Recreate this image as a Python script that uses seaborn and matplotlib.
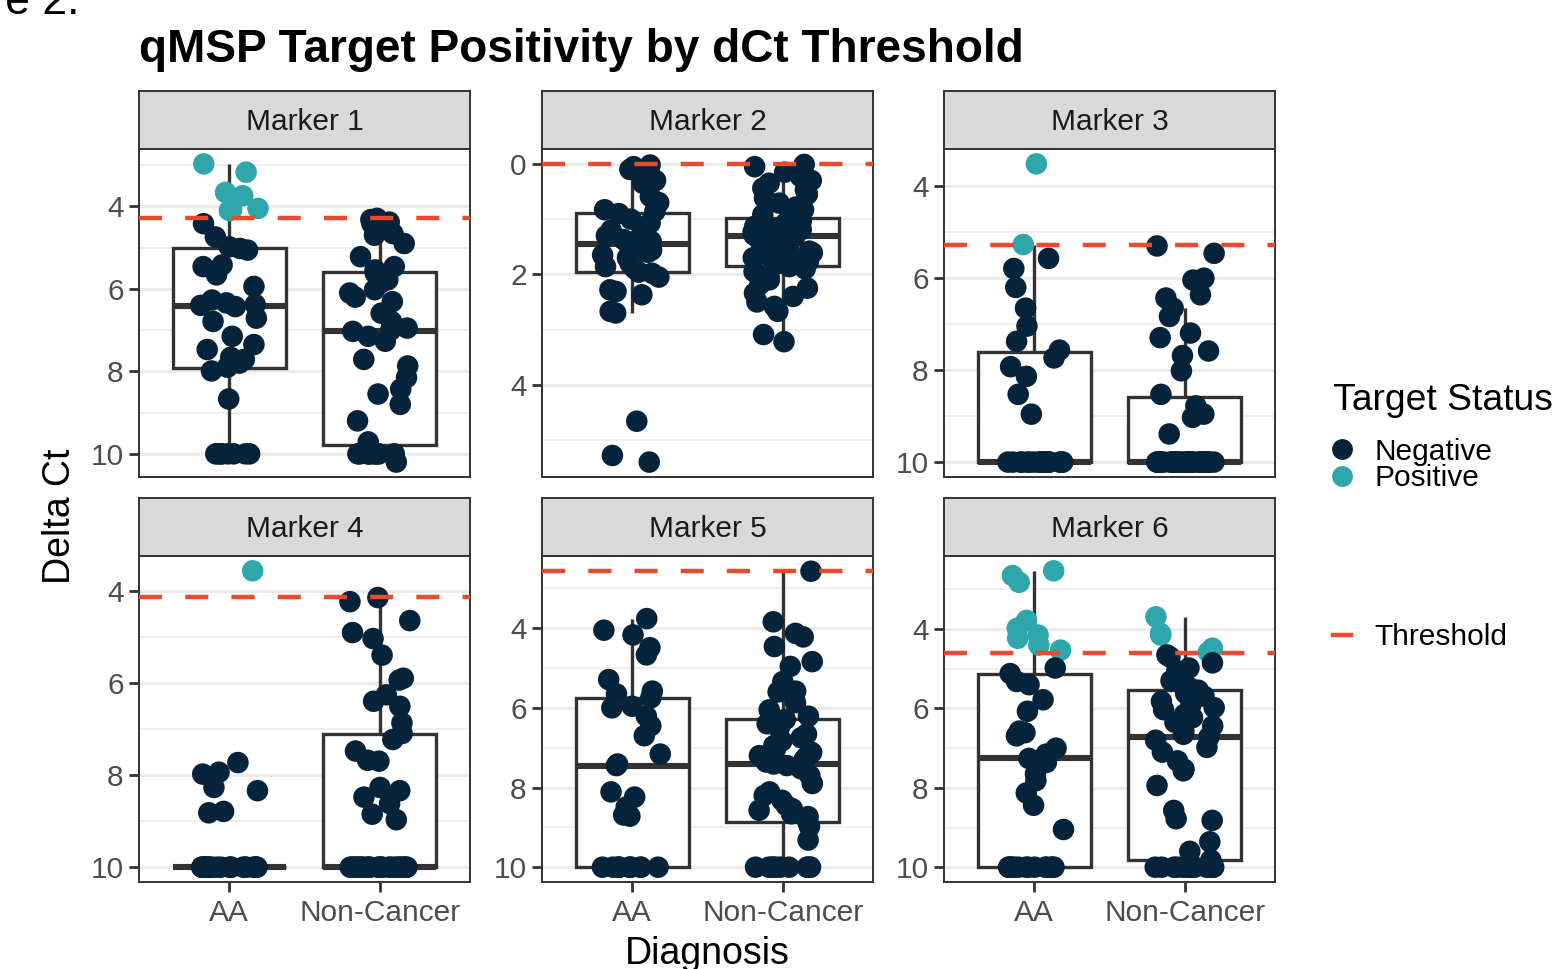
import numpy as np
import pandas as pd
import matplotlib
matplotlib.use("Agg")
import matplotlib.pyplot as plt
from matplotlib.lines import Line2D
from matplotlib.ticker import MultipleLocator
import seaborn as sns

# ---- data (delta Ct per sample) ----
markers = ["Marker 1", "Marker 2", "Marker 3", "Marker 4", "Marker 5", "Marker 6"]
diagnoses = ["AA", "Non-Cancer"]
thresholds = [4.27, 0.0, 5.30, 4.13, 2.56, 4.60]

m1_aa = [2.97, 3.17, 3.66, 3.74, 4.05, 4.08, 4.10, 4.42, 4.74, 4.98, 5.02, 5.06, 5.42, 5.46,
         5.66, 5.94, 6.27, 6.34, 6.38, 6.40, 6.43, 6.71, 6.79, 7.15, 7.35, 7.47, 7.66, 7.71,
         7.80, 7.90, 7.99, 8.67] + [10.0] * 8
m1_nc = [4.29, 4.32, 4.38, 4.42, 4.58, 4.66, 4.70, 4.90, 5.22, 5.46, 5.54, 5.62, 5.78, 5.85,
         6.02, 6.10, 6.20, 6.31, 6.59, 6.79, 6.95, 7.00, 7.03, 7.15, 7.27, 7.71, 7.87, 8.15,
         8.43, 8.55, 8.80, 9.20, 9.71] + [10.0] * 10 + [10.2]
m2_aa = [0.02, 0.05, 0.10, 0.14, 0.30, 0.35, 0.59, 0.70, 0.83, 0.86, 0.90, 1.00, 1.07, 1.13,
         1.20, 1.25, 1.30, 1.37, 1.40, 1.44, 1.46, 1.50, 1.56, 1.60, 1.65, 1.70, 1.80, 1.86,
         1.90, 1.96, 1.98, 2.05, 2.28, 2.31, 2.37, 2.67, 2.70, 4.66, 5.28, 5.40]
m2_nc = [0.01, 0.05, 0.15, 0.23, 0.30, 0.35, 0.44, 0.47, 0.55, 0.62, 0.71, 0.78, 0.83, 0.92,
         0.99, 1.04, 1.07, 1.10, 1.13, 1.16, 1.19, 1.21, 1.23, 1.25, 1.27, 1.28, 1.29, 1.30,
         1.32, 1.37, 1.42, 1.48, 1.53, 1.58, 1.61, 1.65, 1.70, 1.74, 1.77, 1.80, 1.82, 1.84,
         1.86, 1.90, 1.95, 2.04, 2.10, 2.18, 2.25, 2.34, 2.40, 2.50, 2.58, 2.67, 3.09, 3.22]
m3_aa = [3.53, 5.28, 5.58, 5.80, 6.21, 6.66, 7.05, 7.38, 7.57, 7.74, 7.93, 8.14, 8.53,
         8.96] + [10.0] * 20
m3_nc = [5.31, 5.47, 6.01, 6.05, 6.37, 6.44, 6.66, 6.84, 7.20, 7.30, 7.59, 7.69, 8.02, 8.53,
         8.78, 8.96, 9.03, 9.39] + [10.0] * 36
m4_aa = [3.57, 7.73, 7.94, 7.98, 8.27, 8.34, 8.79, 8.82] + [10.0] * 25
m4_nc = [4.15, 4.24, 4.65, 4.91, 5.04, 5.40, 5.90, 5.94, 6.26, 6.40, 6.51, 6.87, 7.10, 7.23,
         7.48, 7.68, 7.70, 8.27, 8.34, 8.48, 8.62, 8.85, 8.97] + [10.0] * 26
m5_aa = [3.76, 4.05, 4.17, 4.49, 4.67, 5.29, 5.58, 5.65, 5.75, 5.96, 6.00, 6.21, 6.45, 6.70,
         7.16, 7.41, 7.45, 8.11, 8.24, 8.49, 8.69, 8.72] + [10.0] * 11
m5_nc = [2.57, 3.84, 4.13, 4.22, 4.46, 4.84, 4.96, 5.34, 5.58, 5.60, 5.87, 6.05, 6.21, 6.29,
         6.40, 6.52, 6.66, 6.75, 6.83, 6.95, 7.05, 7.12, 7.20, 7.24, 7.30, 7.36, 7.41, 7.45,
         7.53, 7.70, 7.90, 8.11, 8.20, 8.32, 8.45, 8.53, 8.57, 8.66, 8.73, 8.86, 8.98,
         9.32] + [10.0] * 11
m6_aa = [2.53, 2.65, 2.82, 3.78, 3.98, 4.15, 4.23, 4.40, 4.53, 4.98, 5.12, 5.32, 5.40, 5.78,
         6.07, 6.57, 6.61, 6.69, 7.00, 7.15, 7.26, 7.36, 7.65, 7.82, 8.13, 8.44, 9.05] + [10.0] * 14
m6_nc = [3.69, 4.11, 4.15, 4.48, 4.58, 4.65, 4.70, 4.85, 4.98, 5.05, 5.19, 5.30, 5.48, 5.54,
         5.62, 5.69, 5.82, 5.90, 5.98, 6.03, 6.15, 6.23, 6.35, 6.44, 6.57, 6.65, 6.72, 6.80,
         6.98, 7.10, 7.32, 7.53, 7.57, 7.94, 8.57, 8.78, 8.82, 9.36, 9.60, 9.82] + [10.0] * 13

aa_values = [m1_aa, m2_aa, m3_aa, m4_aa, m5_aa, m6_aa]
nc_values = [m1_nc, m2_nc, m3_nc, m4_nc, m5_nc, m6_nc]

rows = []
for m, thr, aa, nc in zip(markers, thresholds, aa_values, nc_values):
    for diag, vals in zip(diagnoses, [aa, nc]):
        for v in vals:
            rows.append({"marker": m, "diagnosis": diag, "dct": v,
                         "status": "Positive" if v < thr else "Negative"})
df = pd.DataFrame(rows)

# ---- style ----
palette = {"Negative": "#05233A", "Positive": "#2FA7AA"}
thr_color = "#E84A2B"
edge = "#333333"
plt.rcParams["font.family"] = ["Liberation Sans", "DejaVu Sans"]

np.random.seed(7)
W, H = 1556, 969
fig = plt.figure(figsize=(W / 100, H / 100), dpi=100)

col_left = [139, 542, 944]
row_top = [149, 556]
row_bot = [477, 882]
panel_w = 331
strip_h = 58

for i, (m, thr) in enumerate(zip(markers, thresholds)):
    r, c = divmod(i, 3)
    ax = fig.add_axes([col_left[c] / W, 1 - row_bot[r] / H,
                       panel_w / W, (row_bot[r] - row_top[r]) / H])
    sub = df[df["marker"] == m]

    sns.boxplot(data=sub, x="diagnosis", y="dct", order=diagnoses, ax=ax,
                width=0.75, color="white", linecolor=edge, linewidth=2.4,
                showfliers=False, whis=1.5, medianprops={"linewidth": 4.4},
                capprops={"linewidth": 0})
    sns.stripplot(data=sub, x="diagnosis", y="dct", order=diagnoses, hue="status",
                  hue_order=["Negative", "Positive"], palette=palette, jitter=0.2,
                  size=15.5, linewidth=0, ax=ax, legend=False, zorder=3)
    ax.axhline(thr, color=thr_color, lw=3.2, ls=(0, (5.2, 5.2)), zorder=4)

    lo = min(sub["dct"].min(), thr)
    hi = max(sub["dct"].max(), thr)
    pad = 0.05 * (hi - lo)
    ax.set_ylim(hi + pad, lo - pad)
    ax.set_xlim(-0.6, 1.6)
    ax.yaxis.set_major_locator(MultipleLocator(2))
    ax.yaxis.set_minor_locator(MultipleLocator(1))
    ax.grid(axis="y", which="major", color="#EBEBEB", lw=2.2)
    ax.grid(axis="y", which="minor", color="#EBEBEB", lw=1.1)
    ax.set_axisbelow(True)
    ax.set_xlabel("")
    ax.set_ylabel("")
    for s in ax.spines.values():
        s.set_color(edge)
        s.set_linewidth(1.4)
    ax.tick_params(axis="y", which="major", length=7, width=2, color=edge,
                   labelsize=21.5, labelcolor="#4D4D4D", pad=4)
    ax.tick_params(axis="y", which="minor", length=0)
    if r == 1:
        ax.tick_params(axis="x", length=7, width=2, color=edge,
                       labelsize=21.5, labelcolor="#4D4D4D", pad=5)
    else:
        ax.tick_params(axis="x", length=0, labelbottom=False)

    sax = fig.add_axes([col_left[c] / W, 1 - row_top[r] / H,
                        panel_w / W, strip_h / H])
    sax.set_facecolor("#D9D9D9")
    sax.set_xticks([])
    sax.set_yticks([])
    for s in sax.spines.values():
        s.set_color(edge)
        s.set_linewidth(1.4)
    sax.text(0.5, 0.47, m, ha="center", va="center", fontsize=21.5,
             color="#1A1A1A", transform=sax.transAxes)

# titles and axis labels
fig.text(139 / W, 1 - 62 / H, "qMSP Target Positivity by dCt Threshold",
         fontsize=33.1, fontweight="bold", va="baseline", ha="left")
fig.text(80 / W, 1 - 14 / H, "Figure 2.", fontsize=32, va="baseline", ha="right")
fig.text(707 / W, 1 - 964 / H, "Diagnosis", fontsize=27, va="baseline", ha="center")
fig.text(60 / W, 1 - 516 / H, "Delta Ct", fontsize=27, rotation=90,
         va="center", ha="center")

# legends
fig.text(1333 / W, 1 - 401 / H, "Target Status", fontsize=26.8,
         va="center", ha="left")
status_handles = [Line2D([], [], marker="o", ls="", markersize=15,
                         markerfacecolor=palette[k], markeredgewidth=0)
                  for k in ["Negative", "Positive"]]
fig.legend(status_handles, ["Negative", "Positive"],
           loc="center left", bbox_to_anchor=(1333 / W, 1 - 465 / H),
           frameon=False, fontsize=21.5, handlelength=0.6, handletextpad=0.8,
           labelspacing=-0.05, borderpad=0, borderaxespad=0)
thr_handle = [Line2D([], [], color=thr_color, lw=3.2)]
fig.legend(thr_handle, ["Threshold"], loc="center left",
           bbox_to_anchor=(1333 / W, 1 - 637 / H), frameon=False,
           fontsize=21.5, handlelength=0.6, handletextpad=0.8,
           borderpad=0, borderaxespad=0)

fig.savefig("out.png", dpi=100)
plt.close()
